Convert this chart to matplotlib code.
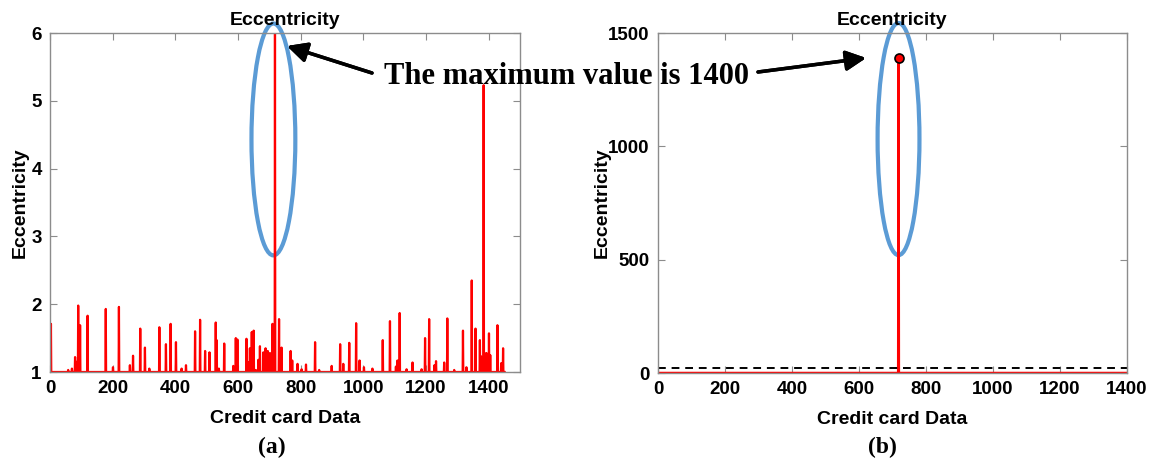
import numpy as np
import matplotlib
matplotlib.use("Agg")
import matplotlib.pyplot as plt
from matplotlib.patches import Ellipse

# ---- data ----
n_points = 1452

# (a) eccentricity of each credit card record, baseline is 1
spike_idx = [3, 58, 70, 80, 85, 90, 96, 120, 178, 201, 220, 255, 265, 288, 303, 317,
             349, 370, 385, 402, 420, 434, 463, 479, 495, 509, 529, 532, 539, 556,
             585, 593, 598, 627, 631, 638, 644, 650, 657, 665, 670, 681, 688, 695,
             702, 710, 713, 718, 731, 739, 768, 773, 790, 803, 817, 846, 859, 899,
             926, 936, 955, 977, 988, 1002, 1029, 1062, 1085, 1104, 1109, 1116,
             1138, 1157, 1186, 1197, 1210, 1227, 1232, 1258, 1268, 1290, 1318, 1329,
             1346, 1358, 1372, 1376, 1384, 1392, 1395, 1401, 1405, 1428, 1440, 1446]
spike_val = [1.71, 1.03, 1.05, 1.22, 1.15, 1.98, 1.69, 1.83, 1.93, 1.07, 1.96, 1.10,
             1.24, 1.64, 1.36, 1.05, 1.66, 1.41, 1.71, 1.44, 1.05, 1.10, 1.60, 1.77,
             1.31, 1.29, 1.73, 1.47, 1.05, 1.42, 1.09, 1.50, 1.48, 1.49, 1.15, 1.35,
             1.59, 1.61, 1.03, 1.18, 1.38, 1.29, 1.35, 1.31, 1.28, 1.71, 1.15, 6.00,
             1.78, 1.36, 1.31, 1.17, 1.12, 1.04, 1.11, 1.44, 1.03, 1.09, 1.41, 1.12,
             1.43, 1.72, 1.17, 1.07, 1.05, 1.47, 1.75, 1.08, 1.17, 1.87, 1.04, 1.14,
             1.04, 1.50, 1.78, 1.10, 1.16, 1.14, 1.79, 1.03, 1.61, 1.07, 2.35, 1.64,
             1.47, 1.23, 5.23, 1.28, 1.27, 1.57, 1.25, 1.69, 1.13, 1.35]

# (b) one record stands out
peak_idx = 718
peak_val = 1390
threshold = 21

ecc_a = np.ones(n_points)
ecc_a[spike_idx] = spike_val
ecc_b = np.zeros(n_points)
ecc_b[peak_idx] = peak_val
x = np.arange(n_points)

plt.rcParams['font.family'] = ['Liberation Sans', 'DejaVu Sans']
plt.rcParams['font.weight'] = 'bold'

W, H = 1151, 465
fig = plt.figure(figsize=(W / 100, H / 100), dpi=100)


def fx(px):
    return px / W


def fy(py):
    return 1 - py / H


def matlab_style(ax):
    for s in ax.spines.values():
        s.set_color('#8c8c8c')
        s.set_linewidth(1.0)
    ax.tick_params(direction='in', top=True, right=True, length=5,
                   color='#8c8c8c', labelsize=13.5, pad=6)
    for lab in ax.get_xticklabels() + ax.get_yticklabels():
        lab.set_fontweight('bold')


serif = ['Liberation Serif', 'DejaVu Serif']

ax1 = fig.add_axes([fx(50), fy(372), fx(470), 339 / H])
ax1.plot(x, ecc_a, color='red', lw=1.6)
ax1.set_xlim(0, 1500)
ax1.set_ylim(1, 6)
ax1.set_xticks(range(0, 1401, 200))
ax1.set_yticks(range(1, 7))
ax1.set_title('Eccentricity', fontsize=14, fontweight='bold', pad=6)
ax1.set_xlabel('Credit card Data', fontsize=14, fontweight='bold', labelpad=9)
ax1.set_ylabel('Eccentricity', fontsize=14, fontweight='bold', labelpad=2)
matlab_style(ax1)

ax2 = fig.add_axes([fx(658), fy(373), fx(469), 340 / H])
ax2.plot(x, ecc_b, color='red', lw=1.8, clip_on=True)
ax2.plot([peak_idx], [peak_val], 'o', color='red', mec='black', mew=1.2, ms=6.5)
ax2.axhline(threshold, color='black', ls='--', lw=1.4, dashes=(4, 3))
ax2.set_xlim(0, 1400)
ax2.set_ylim(0, 1500)
ax2.set_xticks(range(0, 1401, 200))
ax2.set_yticks([0, 500, 1000, 1500])
ax2.set_title('Eccentricity', fontsize=14, fontweight='bold', pad=6)
ax2.set_xlabel('Credit card Data', fontsize=14, fontweight='bold', labelpad=9)
ax2.set_ylabel('Eccentricity', fontsize=14, fontweight='bold', labelpad=-2)
matlab_style(ax2)

# blue ellipses around the anomaly
max_a = int(np.argmax(ecc_a))
max_b = int(np.argmax(ecc_b))
ax1.add_patch(Ellipse((max_a - 5, 4.43), 140, 3.42, fill=False,
                      ec='#5b9bd5', lw=3, clip_on=False))
ax2.add_patch(Ellipse((max_b, 1032), 125, 1024, fill=False,
                      ec='#5b9bd5', lw=3, clip_on=False))

# annotation text with two arrows
fig.text(fx(566), fy(77), 'The maximum value is 1400', ha='center', va='center',
         fontsize=22, fontweight='bold', family=serif)
arrow = dict(arrowstyle='-|>', color='black', lw=2.5, mutation_scale=30,
             shrinkA=0, shrinkB=0)
fig.add_artist(plt.annotate('', xy=(fx(287), fy(46)), xytext=(fx(372), fy(73)),
                            xycoords='figure fraction', textcoords='figure fraction',
                            arrowprops=arrow))
fig.add_artist(plt.annotate('', xy=(fx(866), fy(58)), xytext=(fx(758), fy(72)),
                            xycoords='figure fraction', textcoords='figure fraction',
                            arrowprops=arrow))

fig.text(fx(272), fy(447), '(a)', ha='center', va='center', fontsize=17,
         fontweight='bold', family=serif)
fig.text(fx(882), fy(447), '(b)', ha='center', va='center', fontsize=17,
         fontweight='bold', family=serif)

fig.savefig('out.png', dpi=100)
